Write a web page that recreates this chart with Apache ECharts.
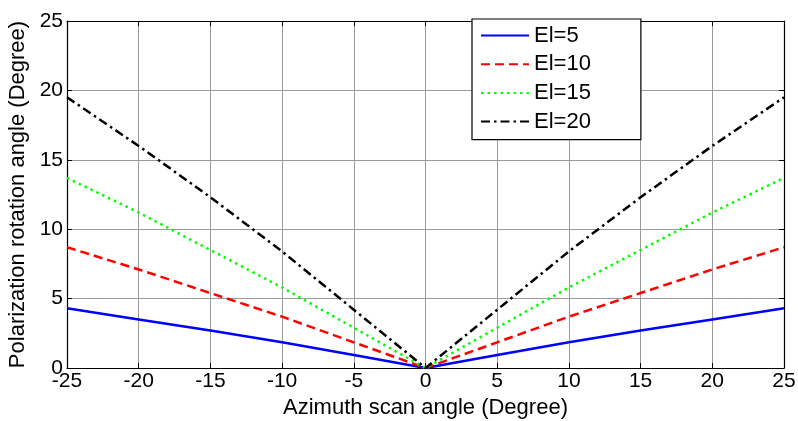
<!DOCTYPE html>
<html>
<head>
<meta charset="utf-8">
<script src="https://cdn.jsdelivr.net/npm/echarts@6/dist/echarts.min.js"></script>
<style>
  html, body { margin: 0; padding: 0; background: #fff; }
  #main { width: 798px; height: 421px; }
</style>
</head>
<body>
<div id="main"></div>
<script>
var myChart = echarts.init(document.getElementById('main'));

// azimuth scan angle (deg)
var azimuth = [-25, -20, -15, -10, -5, 0, 5, 10, 15, 20, 25];
// polarization rotation angle
var el5  = [4.3, 3.5, 2.7, 1.85, 0.93, 0, 0.93, 1.85, 2.7, 3.5, 4.3];
var el10 = [8.7, 7.1, 5.4, 3.7, 1.85, 0, 1.85, 3.7, 5.4, 7.1, 8.7];
var el15 = [13.7, 11.2, 8.5, 5.8, 2.9, 0, 2.9, 5.8, 8.5, 11.2, 13.7];
var el20 = [19.5, 16.0, 12.3, 8.4, 4.2, 0, 4.2, 8.4, 12.3, 16.0, 19.5];
var seriesNames = ['El=5', 'El=10', 'El=15', 'El=20'];

function pairs(vals) {
  return azimuth.map(function (a, i) { return [a, vals[i]]; });
}

var fontFam = 'Liberation Sans, Arial, sans-serif';
var boxAxis = {
  axisLine: { show: true, onZero: false, lineStyle: { color: '#000', width: 1.2 } },
  axisTick: { show: true, inside: true, length: 5, lineStyle: { color: '#000' } },
  axisLabel: { show: false },
  splitLine: { show: false }
};

option = {
  animation: false,
  grid: { left: 67, right: 14, top: 21, bottom: 53, outerBoundsMode: 'none', containLabel: false },
  legend: {
    data: seriesNames,
    orient: 'vertical',
    left: 472,
    top: 19,
    itemWidth: 48,
    itemHeight: 14,
    itemGap: 6.7,
    padding: [5.5, 50, 7, 8],
    backgroundColor: '#fff',
    borderColor: '#000',
    borderWidth: 1.2,
    borderRadius: 0,
    itemStyle: { opacity: 0 },
    textStyle: { fontSize: 22, color: '#000', fontFamily: fontFam }
  },
  xAxis: [{
    type: 'value',
    min: -25, max: 25, interval: 5,
    name: 'Azimuth scan angle (Degree)',
    nameLocation: 'middle',
    nameGap: 16,
    nameTextStyle: { fontSize: 22, color: '#000', fontFamily: fontFam },
    axisLine: { onZero: false, lineStyle: { color: '#000', width: 1.2 } },
    axisTick: { inside: true, length: 5, lineStyle: { color: '#000' } },
    axisLabel: { fontSize: 21, color: '#000', margin: 3, fontFamily: fontFam },
    splitLine: { show: true, lineStyle: { color: '#9a9a9a', width: 1 } }
  }, Object.assign({
    type: 'value', min: -25, max: 25, interval: 5, position: 'top'
  }, boxAxis)],
  yAxis: [{
    type: 'value',
    min: 0, max: 25, interval: 5,
    name: 'Polarization rotation angle (Degree)',
    nameLocation: 'middle',
    nameGap: 35,
    nameTextStyle: { fontSize: 22, color: '#000', fontFamily: fontFam },
    axisLine: { show: true, onZero: false, lineStyle: { color: '#000', width: 1.2 } },
    axisTick: { show: true, inside: true, length: 5, lineStyle: { color: '#000' } },
    axisLabel: { fontSize: 21, color: '#000', margin: 4, fontFamily: fontFam },
    splitLine: { show: true, lineStyle: { color: '#9a9a9a', width: 1 } }
  }, Object.assign({
    type: 'value', min: 0, max: 25, interval: 5, position: 'right'
  }, boxAxis)],
  series: [
    {
      name: 'El=5', type: 'line', data: pairs(el5), symbol: 'none',
      color: '#0000ff', lineStyle: { width: 2.5, type: 'solid' }
    },
    {
      name: 'El=10', type: 'line', data: pairs(el10), symbol: 'none',
      color: '#ff0000', lineStyle: { width: 2.5, type: [9, 5] }
    },
    {
      name: 'El=15', type: 'line', data: pairs(el15), symbol: 'none',
      color: '#00ff00', lineStyle: { width: 2.5, type: [2.5, 4] }
    },
    {
      name: 'El=20', type: 'line', data: pairs(el20), symbol: 'none',
      color: '#000000', lineStyle: { width: 2.5, type: [9, 4, 2.5, 4] }
    }
  ]
};

myChart.setOption(option);
</script>
</body>
</html>
